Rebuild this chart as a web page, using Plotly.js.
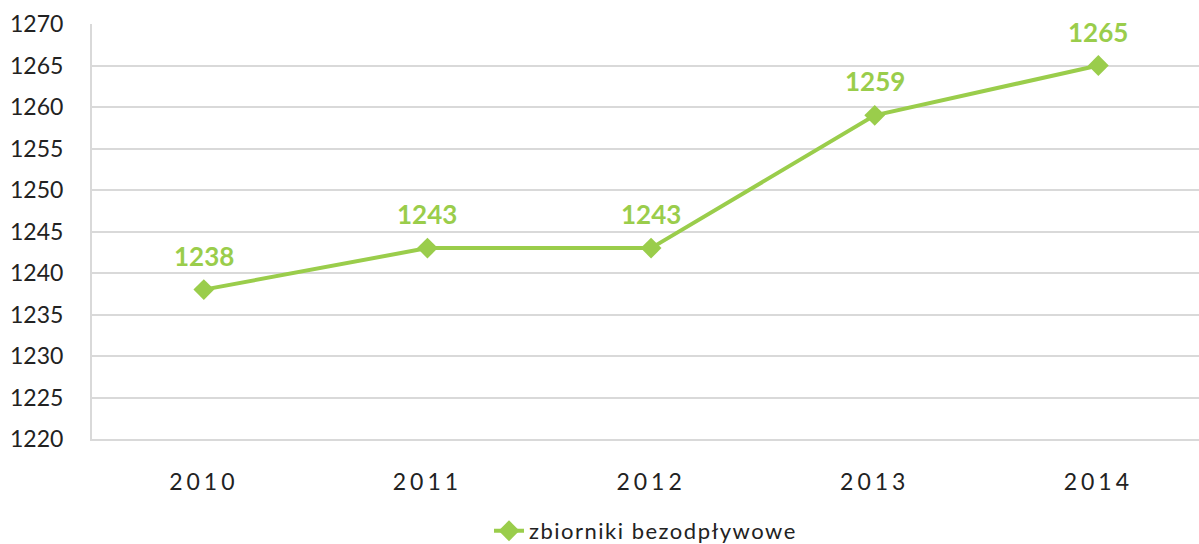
<!DOCTYPE html>
<html><head><meta charset="utf-8">
<script src="https://cdn.plot.ly/plotly-3.0.1.min.js"></script>
<style>html,body{margin:0;padding:0;background:#fff}#c{width:1199px;height:544px}
.xtick text{letter-spacing:4px}
.legendtext{letter-spacing:1.5px}
</style>
</head><body><div id="c"></div>
<script>
const years = ['2010','2011','2012','2013','2014'];
const values = [1238, 1243, 1243, 1259, 1265];
const seriesName = 'zbiorniki bezodpływowe';
const green = '#9ACD4B';
const font = 'Lato, "DejaVu Sans", sans-serif';

const trace = {
  x: years, y: values, type: 'scatter', mode: 'lines+markers', name: seriesName,
  line: {color: green, width: 4},
  marker: {symbol: 'diamond', size: 16, color: green},
  cliponaxis: false
};
const annotations = years.map((yr, i) => ({
  x: i, y: values[i], xref: 'x', yref: 'y', text: '<b>' + values[i] + '</b>', showarrow: false,
  yshift: 34, font: {family: font, size: 26, color: green}
}));
const layout = {
  width: 1199, height: 544,
  margin: {l: 92, r: 0, t: 24, b: 105, autoexpand: false},
  paper_bgcolor: '#fff', plot_bgcolor: '#fff',
  font: {family: font, color: '#222', size: 20},
  showlegend: true,
  legend: {orientation: 'h', x: 0.5, xanchor: 'center', yref: 'container', y: 0.024, yanchor: 'middle', font: {size: 22, color: '#222'}},
  xaxis: {type: 'category', range: [-0.5, 4.45], showgrid: false, zeroline: false,
    showline: true, linecolor: '#d9d9d9', linewidth: 2, ticks: '', tickfont: {size: 23}, ticklabelstandoff: 21},
  yaxis: {range: [1220, 1270], dtick: 5, showgrid: true, gridcolor: '#d9d9d9', gridwidth: 2,
    zeroline: false, showline: true, linecolor: '#d9d9d9', linewidth: 2, ticks: '',
    tickfont: {size: 23}, ticklabelstandoff: 22},
  annotations: annotations
};
Plotly.newPlot('c', [trace], layout, {displayModeBar: false, staticPlot: true});
</script></body></html>
